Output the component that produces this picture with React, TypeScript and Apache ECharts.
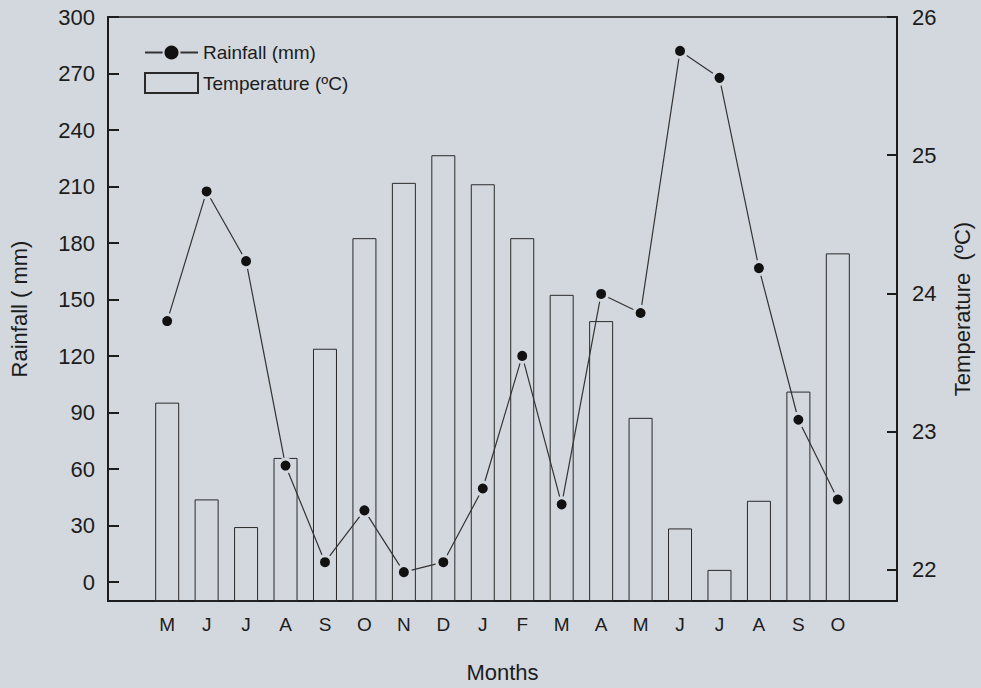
import React, { useEffect, useRef } from "react";
import * as echarts from "echarts";

const months = ["M", "J", "J", "A", "S", "O", "N", "D", "J", "F", "M", "A", "M", "J", "J", "A", "S", "O"];
const rainfall = [138.6, 207.4, 170.4, 61.9, 10.6, 38.1, 5.3, 10.6, 49.7, 120.1, 41.3, 153, 142.9, 282, 267.7, 166.7, 86.2, 43.9];
const temperature = [23.21, 22.51, 22.31, 22.81, 23.6, 24.4, 24.8, 25.0, 24.79, 24.4, 23.99, 23.8, 23.1, 22.3, 22.0, 22.5, 23.29, 24.29];
const rainTicks = [0, 30, 60, 90, 120, 150, 180, 210, 240, 270, 300];
const tempTicks = [22, 23, 24, 25, 26];

const BG = "#d3d8de";
const INK = "#1c1c1c";
const FONT = "'Liberation Sans', Arial, Helvetica, sans-serif";

export default function App() {
  const ref = useRef<HTMLDivElement>(null);
  useEffect(() => {
    document.body.style.margin = "0";
    document.body.style.background = BG;
    const chart = echarts.init(ref.current!, undefined, { renderer: "svg" });
    const monthIdx = months.map((_, i) => i);
    chart.setOption({
      animation: false,
      backgroundColor: BG,
      textStyle: { fontFamily: FONT, color: INK },
      grid: {
        left: 106,
        right: 84,
        top: 17,
        bottom: 85,
        show: true,
        borderColor: INK,
        borderWidth: 1.5,
        backgroundColor: "transparent",
      },
      legend: [
        {
          data: ["Rainfall (mm)"],
          left: 139,
          top: 38,
          itemWidth: 53,
          itemHeight: 20,
          itemGap: 0,
          textStyle: { fontSize: 19, color: INK, fontFamily: FONT },
        },
        {
          data: [{ name: "Temperature (ºC)", icon: "rect" }],
          left: 139,
          top: 67,
          itemWidth: 53,
          itemHeight: 20,
          textStyle: { fontSize: 19, color: INK, fontFamily: FONT },
        },
      ],
      xAxis: {
        type: "value",
        min: -1.5,
        max: 18.5,
        name: "Months",
        nameLocation: "middle",
        nameGap: 60,
        nameTextStyle: { fontSize: 22, color: INK, fontFamily: FONT },
        axisLine: { show: true, onZero: false, lineStyle: { color: INK, width: 2 } },
        axisTick: { show: false },
        splitLine: { show: false },
        axisLabel: {
          customValues: monthIdx,
          formatter: (v: number) => months[Math.round(v)] ?? "",
          fontSize: 19,
          color: INK,
          margin: 14,
          fontFamily: FONT,
        },
      },
      yAxis: [
        {
          type: "value",
          min: -10,
          max: 300,
          name: "Rainfall ( mm)",
          nameLocation: "middle",
          nameRotate: 90,
          nameGap: 78,
          nameTextStyle: { fontSize: 22, color: INK, fontFamily: FONT },
          axisLine: { show: true, onZero: false, lineStyle: { color: INK, width: 2 } },
          axisTick: { show: true, inside: true, length: 11, customValues: rainTicks, lineStyle: { color: INK, width: 2 } },
          axisLabel: { customValues: rainTicks, fontSize: 22, color: INK, margin: 13, fontFamily: FONT },
          splitLine: { show: false },
        },
        {
          type: "value",
          min: 21.775,
          max: 26,
          position: "right",
          name: "Temperature  (ºC)",
          nameLocation: "middle",
          nameRotate: 90,
          nameGap: 54,
          nameTextStyle: { fontSize: 22, color: INK, fontFamily: FONT },
          axisLine: { show: true, onZero: false, lineStyle: { color: INK, width: 2 } },
          axisTick: { show: true, inside: true, length: 10, customValues: tempTicks, lineStyle: { color: INK, width: 2 } },
          axisLabel: { customValues: tempTicks, fontSize: 22, color: INK, margin: 15, fontFamily: FONT },
          splitLine: { show: false },
        },
      ],
      series: [
        {
          name: "Temperature (ºC)",
          type: "bar",
          xAxisIndex: 0,
          yAxisIndex: 1,
          barWidth: 24,
          clip: true,
          data: temperature.map((t, i) => [i, t]),
          itemStyle: { color: "rgba(0,0,0,0)", borderColor: "#2a2a2a", borderWidth: 1 },
          z: 2,
        },
        {
          name: "Rainfall (mm)",
          type: "line",
          xAxisIndex: 0,
          yAxisIndex: 0,
          data: rainfall.map((r, i) => [i, r]),
          symbol: "circle",
          symbolSize: 13,
          itemStyle: { color: "#111", borderColor: BG, borderWidth: 3 },
          lineStyle: { color: "#333", width: 1.2 },
          z: 5,
        },
      ],
    });
    return () => chart.dispose();
  }, []);
  return <div ref={ref} style={{ width: 981, height: 688 }} />;
}
